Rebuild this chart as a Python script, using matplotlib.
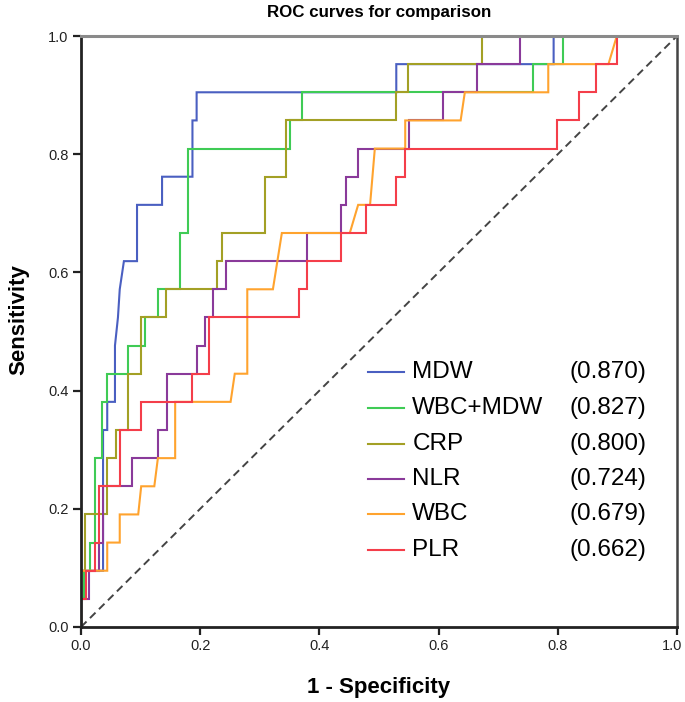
import matplotlib
matplotlib.use("Agg")
import matplotlib.pyplot as plt
import matplotlib.transforms as mtransforms
from matplotlib.lines import Line2D

plt.rcParams['font.family'] = ['Liberation Sans', 'DejaVu Sans']

n_pos = 21  # sensitivity steps are counts of 21 positives

names = ["MDW", "WBC+MDW", "CRP", "NLR", "WBC", "PLR"]
aucs = ["(0.870)", "(0.827)", "(0.800)", "(0.724)", "(0.679)", "(0.662)"]
colors = ["#4a5fc1", "#3fcb55", "#a3a025", "#8a3a9a", "#ffa32e", "#f43e4a"]

mdw_fpr = [0, 0, 0.037, 0.037, 0.044, 0.044, 0.057, 0.057, 0.062, 0.065, 0.072, 0.094, 0.094,
           0.136, 0.136, 0.187, 0.187, 0.194, 0.194, 0.529, 0.529, 0.793, 0.793, 1.0]
mdw_k = [0, 2, 2, 7, 7, 8, 8, 10, 11, 12, 13, 13, 15, 15, 16, 16, 18, 18, 19, 19, 20, 20, 21, 21]

wm_fpr = [0, 0, 0.005, 0.005, 0.015, 0.015, 0.023, 0.023, 0.036, 0.036, 0.044, 0.044, 0.079, 0.079,
          0.107, 0.107, 0.130, 0.130, 0.166, 0.166, 0.180, 0.180, 0.351, 0.351, 0.371, 0.371,
          0.758, 0.758, 0.808, 0.808, 1.0]
wm_k = [0, 1, 1, 2, 2, 3, 3, 6, 6, 8, 8, 9, 9, 10, 10, 11, 11, 12, 12, 14, 14, 17, 17, 18, 18, 19,
        19, 20, 20, 21, 21]

crp_fpr = [0, 0, 0.007, 0.007, 0.043, 0.043, 0.058, 0.058, 0.079, 0.079, 0.100, 0.100, 0.143, 0.143,
           0.229, 0.229, 0.236, 0.236, 0.309, 0.309, 0.344, 0.344, 0.529, 0.529, 0.549, 0.549,
           0.672, 0.672, 1.0]
crp_k = [0, 2, 2, 4, 4, 6, 6, 7, 7, 9, 9, 11, 11, 12, 12, 13, 13, 14, 14, 16, 16, 18, 18, 19, 19, 20,
         20, 21, 21]

nlr_fpr = [0, 0, 0.014, 0.014, 0.030, 0.030, 0.037, 0.037, 0.086, 0.086, 0.129, 0.129, 0.144, 0.144,
           0.194, 0.194, 0.208, 0.208, 0.222, 0.222, 0.244, 0.244, 0.379, 0.379, 0.437, 0.437,
           0.445, 0.445, 0.465, 0.465, 0.551, 0.551, 0.608, 0.608, 0.665, 0.665, 0.737, 0.737, 1.0]
nlr_k = [0, 1, 1, 2, 2, 3, 3, 5, 5, 6, 6, 7, 7, 9, 9, 10, 10, 11, 11, 12, 12, 13, 13, 14, 14, 15,
         15, 16, 16, 17, 17, 18, 18, 19, 19, 20, 20, 21, 21]

wbc_fpr = [0, 0, 0.044, 0.044, 0.065, 0.065, 0.096, 0.101, 0.123, 0.129, 0.158, 0.158, 0.251, 0.258,
           0.279, 0.279, 0.322, 0.337, 0.451, 0.465, 0.485, 0.493, 0.544, 0.544, 0.637, 0.644,
           0.784, 0.784, 0.885, 0.899, 1.0]
wbc_k = [0, 2, 2, 3, 3, 4, 4, 5, 5, 6, 6, 8, 8, 9, 9, 12, 12, 14, 14, 15, 15, 17, 17, 18, 18, 19,
         19, 20, 20, 21, 21]

plr_fpr = [0, 0, 0.009, 0.009, 0.023, 0.023, 0.030, 0.030, 0.065, 0.065, 0.101, 0.101, 0.187, 0.187,
           0.215, 0.215, 0.365, 0.365, 0.379, 0.379, 0.437, 0.437, 0.479, 0.479, 0.528, 0.528,
           0.544, 0.544, 0.799, 0.799, 0.836, 0.836, 0.864, 0.864, 0.900, 0.900, 1.0]
plr_k = [0, 1, 1, 2, 2, 3, 3, 5, 5, 7, 7, 8, 8, 9, 9, 11, 11, 12, 12, 13, 13, 14, 14, 15, 15, 16,
         16, 17, 17, 18, 18, 19, 19, 20, 20, 21, 21]

curves = [(mdw_fpr, mdw_k), (wm_fpr, wm_k), (crp_fpr, crp_k),
          (nlr_fpr, nlr_k), (wbc_fpr, wbc_k), (plr_fpr, plr_k)]

ticks = [0.0, 0.2, 0.4, 0.6, 0.8, 1.0]
tick_labels = ["0.0", "0.2", "0.4", "0.6", "0.8", "1.0"]

fig = plt.figure(figsize=(6.85, 7.02), dpi=100)
ax = fig.add_axes([81 / 685, 1 - 627 / 702, 596 / 685, 591 / 702])

ax.plot([0, 1], [0, 1], color="#444444", lw=1.4, ls=(0, (4, 2.5)), zorder=1)

for (fx, kk), c in zip(curves, colors):
    ax.plot(fx, [k / n_pos for k in kk], color=c, lw=1.5, solid_joinstyle="miter", zorder=2)

ax.set_xlim(0, 1)
ax.set_ylim(0, 1)
ax.set_xticks(ticks)
ax.set_xticklabels(tick_labels)
ax.set_yticks(ticks)
ax.set_yticklabels(tick_labels)
ax.tick_params(axis="both", direction="out", length=6, width=1.6, labelsize=10.5, colors="#222222",
               pad=3)
# keep the last x tick label inside the figure
last = ax.get_xticklabels()[-1]
last.set_transform(last.get_transform() + mtransforms.ScaledTranslation(-5 / 100, 0, fig.dpi_scale_trans))

for s in ["left", "bottom"]:
    ax.spines[s].set_linewidth(2.0)
    ax.spines[s].set_color("#222222")
ax.spines["top"].set_linewidth(2.2)
ax.spines["top"].set_color("#8a8a8a")
ax.spines["right"].set_linewidth(1.8)
ax.spines["right"].set_color("#444444")

fig.text(379 / 685, 1 - 13 / 702, "ROC curves for comparison", ha="center", va="center",
         fontsize=12.2, fontweight="bold")
fig.text(379 / 685, 1 - 688 / 702, "1 - Specificity", ha="center", va="center",
         fontsize=16, fontweight="bold")
fig.text(19 / 685, 1 - 320 / 702, "Sensitivity", ha="center", va="center", rotation=90,
         fontsize=16, fontweight="bold")

# legend (drawn manually to match layout)
row_y = [0.4315, 0.3706, 0.3096, 0.2504, 0.1912, 0.1303]
for name, auc, c, yy in zip(names, aucs, colors, row_y):
    ax.add_line(Line2D([0.4815, 0.5415], [yy, yy], transform=ax.transAxes, color=c, lw=1.5))
    ax.text(0.556, yy, name, transform=ax.transAxes, va="center", ha="left", fontsize=17.5)
    ax.text(0.948, yy, auc, transform=ax.transAxes, va="center", ha="right", fontsize=17.5)

fig.savefig("out.png", dpi=100, facecolor="white")
